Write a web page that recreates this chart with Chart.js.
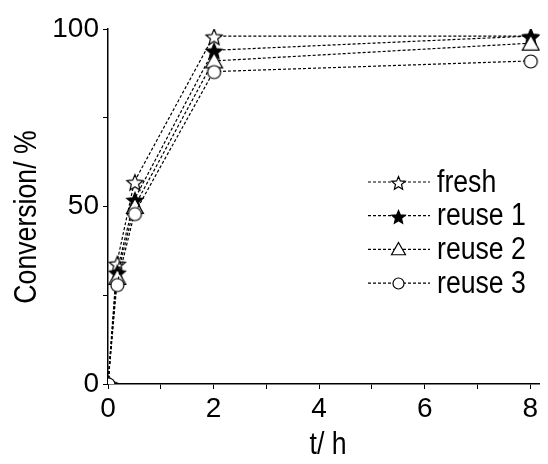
<!DOCTYPE html>
<html>
<head>
<meta charset="utf-8">
<script src="https://cdn.jsdelivr.net/npm/chart.js@4"></script>
<style>
  html, body { margin: 0; padding: 0; background: #fff; }
  #wrap { width: 548px; height: 464px; }
</style>
</head>
<body>
<div id="wrap"><canvas id="myChart" width="548" height="464"></canvas></div>
<script>
const ctx = document.getElementById('myChart')

// time points (h)
const times = [0, 0.167, 0.5, 2, 8]
const fresh = [0, 34, 57, 98, 98]
const reuse1 = [0, 31.5, 52, 94, 98]
const reuse2 = [0, 30, 50, 91, 96]
const reuse3 = [0, 28, 48, 88, 91]
const labels = ['fresh', 'reuse 1', 'reuse 2', 'reuse 3']
const xTicks = [0, 2, 4, 6, 8]
const yTicks = [0, 50, 100]

const FONT = '"Liberation Sans", Arial, sans-serif'
const SQUEEZE = 0.86 // the original text is a bit condensed

// little canvases for the markers
function makeMarker(kind, r) {
  const s = Math.ceil(r * 2 + 4)
  const c = document.createElement('canvas')
  c.width = s
  c.height = s
  const g = c.getContext('2d')
  const cx = s / 2 + 0.5, cy = s / 2 + 0.5
  g.lineWidth = 1.2
  g.strokeStyle = '#000'
  g.fillStyle = '#fff'
  g.beginPath()
  if (kind === 'star' || kind === 'starFill') {
    const inner = r * 0.45
    for (let i = 0; i < 10; i++) {
      const rad = i % 2 === 0 ? r : inner
      const a = -Math.PI / 2 + i * Math.PI / 5
      const px = cx + rad * Math.cos(a), py = cy + 1 + rad * Math.sin(a)
      i === 0 ? g.moveTo(px, py) : g.lineTo(px, py)
    }
    g.closePath()
    if (kind === 'starFill') g.fillStyle = '#000'
  } else if (kind === 'triangle') {
    g.moveTo(cx, cy - r)
    g.lineTo(cx + r, cy + r * 0.75)
    g.lineTo(cx - r, cy + r * 0.75)
    g.closePath()
  } else {
    g.arc(cx, cy, r - 0.5, 0, Math.PI * 2)
  }
  g.fill()
  g.stroke()
  return c
}

const kinds = ['star', 'starFill', 'triangle', 'circle']
const plotMarkers = kinds.map((k) => makeMarker(k, k === 'circle' ? 7 : 8.5))
const legendMarkers = kinds.map((k) => makeMarker(k, k === 'circle' ? 6 : 7))

const series = [fresh, reuse1, reuse2, reuse3]

const data = {
  datasets: series.map((vals, i) => ({
    label: labels[i],
    data: vals.map((v, j) => ({ x: times[j], y: v })),
    showLine: true,
    borderColor: '#000',
    borderWidth: 1.2,
    borderDash: [3, 2],
    pointStyle: plotMarkers[i],
    pointRadius: 7,
    order: -i
  }))
}

function squeezedText(c, txt, x, y, align) {
  c.save()
  c.translate(x, y)
  c.scale(SQUEEZE, 1)
  c.textAlign = align
  c.fillText(txt, 0, 0)
  c.restore()
}

// legend + axis titles drawn by hand, like the original figure
const extras = {
  id: 'extras',
  afterDraw(chart) {
    const c = chart.ctx
    c.save()
    c.fillStyle = '#000'
    c.font = '31px ' + FONT
    c.textBaseline = 'middle'
    labels.forEach((lab, i) => {
      const y = 182 + i * 33.7
      c.strokeStyle = '#000'
      c.lineWidth = 1.2
      c.setLineDash([3, 2])
      c.beginPath()
      c.moveTo(368, y)
      c.lineTo(430, y)
      c.stroke()
      c.setLineDash([])
      const m = legendMarkers[i]
      c.drawImage(m, Math.round(398 - m.width / 2), Math.round(y - m.height / 2))
      squeezedText(c, lab, 437, y + 1, 'left')
    })
    squeezedText(c, 't/ h', 328, 445, 'center')
    c.translate(27, 217)
    c.rotate(-Math.PI / 2)
    squeezedText(c, 'Conversion/ %', 0, 0, 'center')
    c.restore()
  }
}

const options = {
  responsive: false,
  animation: false,
  layout: { padding: { top: 29, right: 2, left: 0, bottom: 0 } },
  scales: {
    x: {
      type: 'linear',
      min: 0,
      max: 8.18,
      afterFit: (scale) => { scale.height = 80 },
      border: { color: '#000', width: 1.5 },
      grid: { drawOnChartArea: false, drawTicks: true, tickLength: 5, tickColor: '#000' },
      ticks: {
        stepSize: 1,
        includeBounds: false,
        color: '#000',
        padding: 3,
        maxRotation: 0,
        font: { family: FONT, size: 28 },
        callback: (v) => (xTicks.includes(v) ? v : '')
      }
    },
    y: {
      min: 0,
      max: 100,
      afterFit: (scale) => { scale.width = 108 },
      border: { color: '#000', width: 1.5 },
      grid: { drawOnChartArea: false, drawTicks: true, tickLength: 5, tickColor: '#000' },
      ticks: {
        stepSize: 25,
        color: '#000',
        padding: 4,
        font: { family: FONT, size: 28 },
        callback: (v) => (yTicks.includes(v) ? v : '')
      }
    }
  },
  plugins: {
    legend: { display: false },
    tooltip: { enabled: false }
  }
}

let chart = new Chart(ctx, {
  type: 'scatter',
  data,
  options,
  plugins: [extras]
})
</script>
</body>
</html>
